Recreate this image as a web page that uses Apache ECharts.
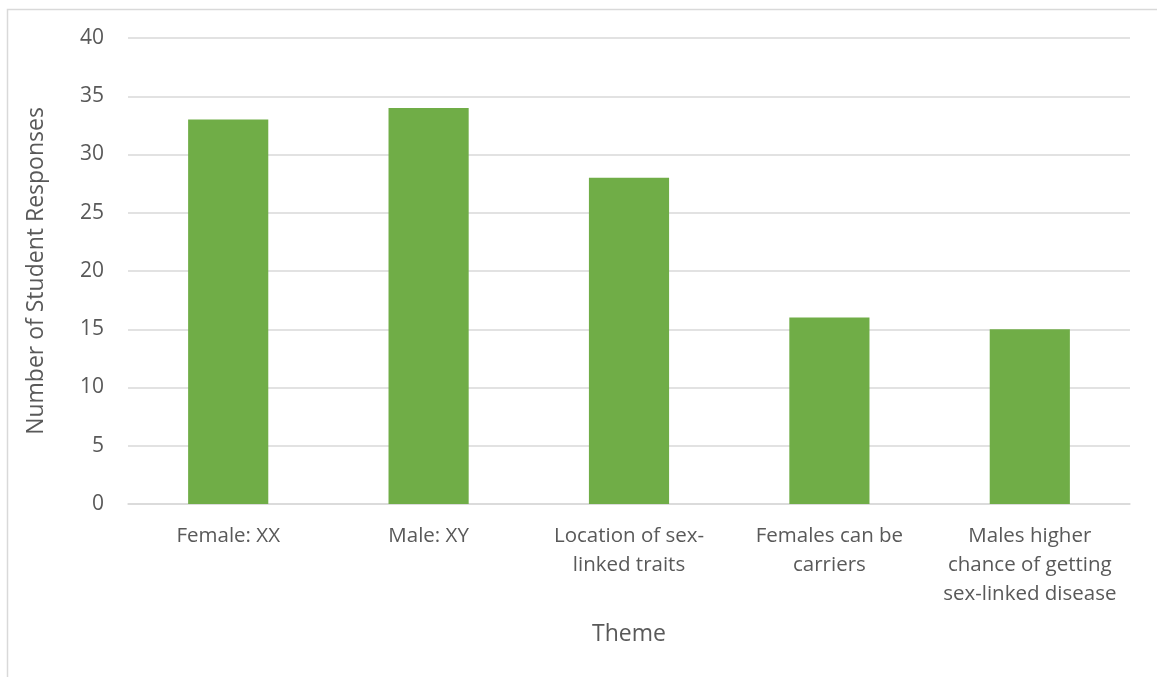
<!DOCTYPE html>
<html>
<head>
<meta charset="utf-8">
<script src="https://cdn.jsdelivr.net/npm/echarts@6/dist/echarts.min.js"></script>
<style>
  html, body { margin: 0; padding: 0; background: #fff; }
  #chart { width: 1157px; height: 677px; }
</style>
</head>
<body>
<div id="chart"></div>
<script>
const categories = [
  'Female: XX',
  'Male: XY',
  'Location of sex-\nlinked traits',
  'Females can be\ncarriers',
  'Males higher\nchance of getting\nsex-linked disease'
];
const responses = [33, 34, 28, 16, 15];

const myChart = echarts.init(document.getElementById('chart'));
const font = '"Open Sans", sans-serif';

const option = {
  animation: false,
  textStyle: { fontFamily: font },
  graphic: [
    {
      type: 'rect',
      shape: { x: 7.5, y: 9.5, width: 1200, height: 700 },
      style: { fill: 'none', stroke: '#d9d9d9', lineWidth: 1.5 }
    }
  ],
  grid: {
    left: 128,
    right: 27,
    top: 38,
    bottom: 173
  },
  xAxis: {
    type: 'category',
    data: categories,
    name: 'Theme',
    nameLocation: 'middle',
    nameGap: 119,
    nameTextStyle: { color: '#595959', fontSize: 23, fontFamily: font },
    axisLine: { show: true, lineStyle: { color: '#d9d9d9', width: 1.5 } },
    axisTick: { show: false },
    axisLabel: {
      color: '#595959',
      fontSize: 20.5,
      fontFamily: font,
      lineHeight: 29,
      margin: 18,
      interval: 0
    }
  },
  yAxis: {
    type: 'value',
    min: 0,
    max: 40,
    interval: 5,
    name: 'Number of Student Responses',
    nameLocation: 'middle',
    nameGap: 80,
    nameTextStyle: { color: '#595959', fontSize: 23, fontFamily: font },
    axisLine: { show: false },
    axisTick: { show: false },
    axisLabel: { color: '#595959', fontSize: 21, fontFamily: font, margin: 24 },
    splitLine: { lineStyle: { color: '#d9d9d9', width: 1.5 } }
  },
  series: [
    {
      type: 'bar',
      data: responses,
      barWidth: '40%',
      itemStyle: { color: '#70AD47' }
    }
  ]
};

myChart.setOption(option);
</script>
</body>
</html>
